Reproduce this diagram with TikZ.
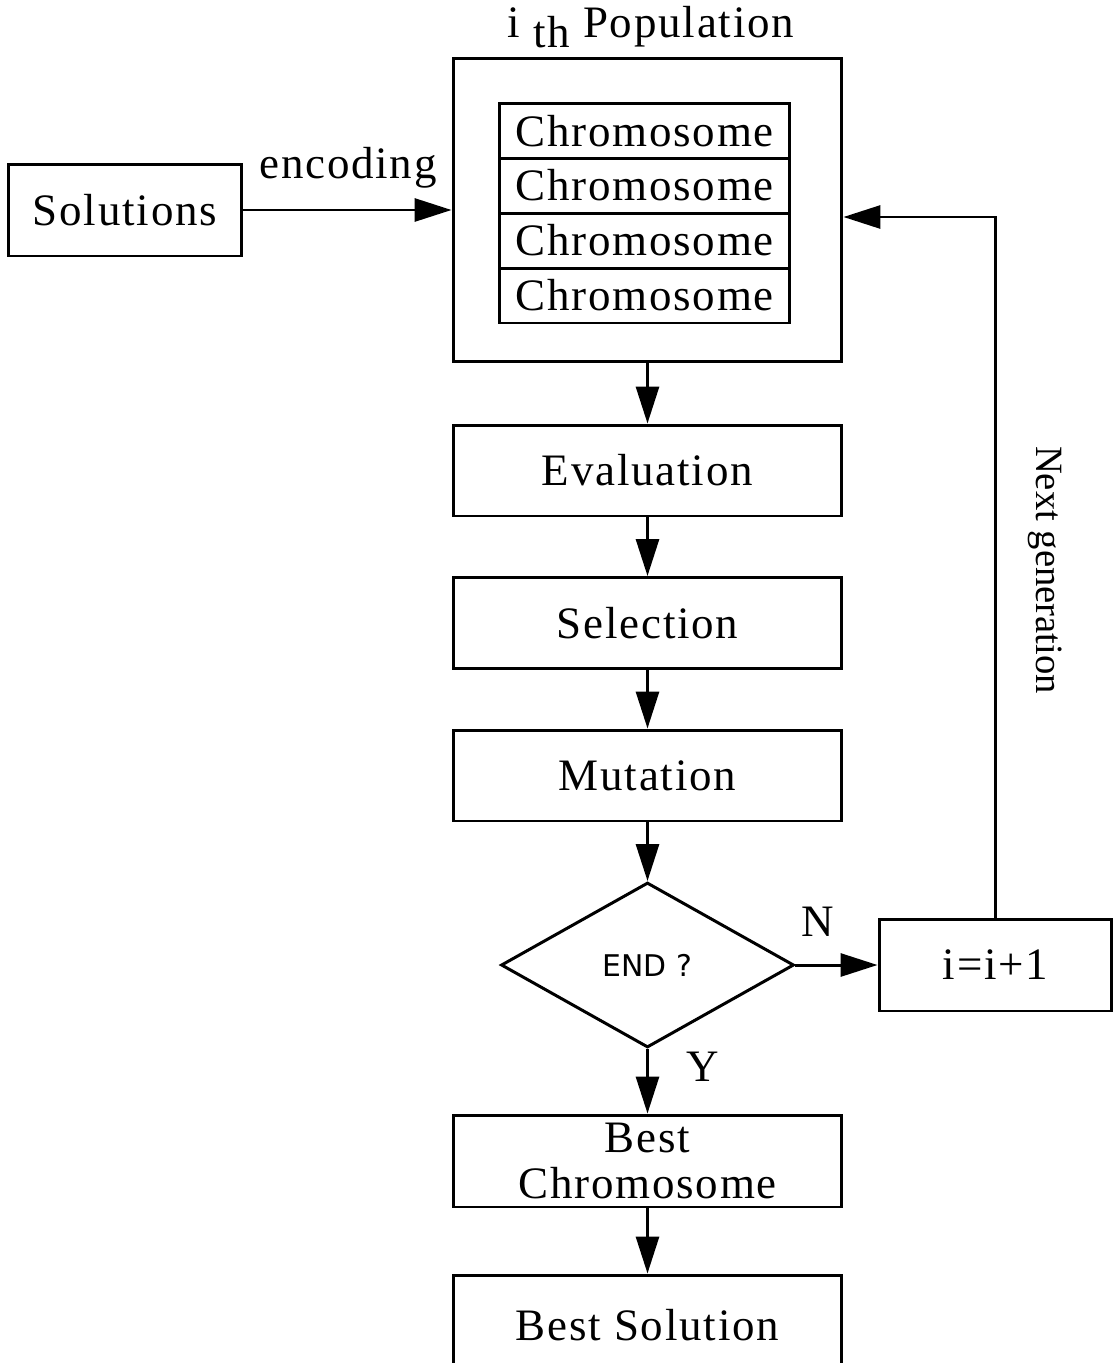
\documentclass[tikz,border=0pt]{standalone}
\usepackage{fontspec}
\setmainfont{Liberation Serif}[LetterSpace=4.0]
\newfontfamily\plainserif{Liberation Serif}
\newfontfamily\endfont{DejaVu Sans}
\usetikzlibrary{shapes.geometric,arrows.meta}
\tikzset{
  nd_box/.style={rectangle,draw=black,line width=1.7pt,inner sep=0pt,minimum width=7.78cm,minimum height=1.82cm,align=center,font=\fontsize{25.6pt}{26pt}\selectfont},
  nd_chr/.style={nd_box,minimum width=5.82cm,minimum height=1.1cm},
  nd_small/.style={nd_box,minimum width=4.68cm,minimum height=1.84cm},
  nd_dec/.style={diamond,draw=black,line width=1.7pt,inner sep=0pt,minimum width=5.86cm,minimum height=3.3cm,font=\endfont\fontsize{17pt}{19pt}\selectfont},
  lbl/.style={inner sep=0pt,font=\fontsize{25.6pt}{26pt}\selectfont},
  arr/.style={-{Triangle[length=0.74cm,width=0.46cm]},line width=1.7pt},
}

\begin{document}
\begin{tikzpicture}[x=0.02cm,y=-0.02cm]
\useasboundingbox (0,0) rectangle (1116,1363);
\def\cX{647.5}
% population
\node[nd_box,minimum height=6.08cm] at (\cX,210)(pop){};
\node[lbl] at (651,27)(ttl){i\raisebox{-0.2cm}{ th} Population};
\node[nd_chr] at (644.5,131)(C1){Chromosome};
\node[nd_chr] at (644.5,185.5)(C2){Chromosome};
\node[nd_chr] at (644.5,240.5)(C3){Chromosome};
\node[nd_chr] at (644.5,295.5)(C4){Chromosome};
\node[nd_small] at (125,210)(sol){Solutions};
\node[lbl] at (348,168)(enc){encoding};
% main column
\node[nd_box] at (\cX,470.5)(EV){Evaluation};
\node[nd_box] at (\cX,623)(SE){Selection};
\node[nd_box] at (\cX,775.5)(MU){Mutation};
\node[nd_dec] at (\cX,965)(END){END ?};
\node[nd_small,minimum width=4.66cm] at (995.5,965)(INC){i=i+1};
\node[nd_box,minimum height=1.84cm] at (\cX,1161)(BC){Best\\Chromosome};
\node[nd_box,minimum height=2cm] at (\cX,1325)(BS){Best Solution};
\node[lbl] at (818,922)(N){N};
\node[lbl] at (703,1067)(Y){Y};
\node[inner sep=0pt,rotate=-90,font=\plainserif\fontsize{22pt}{24pt}\selectfont] at (1045,570)(NG){Next generation};
\coordinate (fb) at (995.5,217);
% arrows
\draw[arr](sol.east)--(pop.west);
\draw[arr](pop)--(EV);
\draw[arr](EV)--(SE);
\draw[arr](SE)--(MU);
\draw[arr](MU)--(END);
\draw[arr](END)--(BC);
\draw[arr](BC)--(BS);
\draw[arr](END.east)--(INC.west);
\draw[arr](INC.north)--(fb)--(pop.east |- fb);
\end{tikzpicture}
\end{document}
